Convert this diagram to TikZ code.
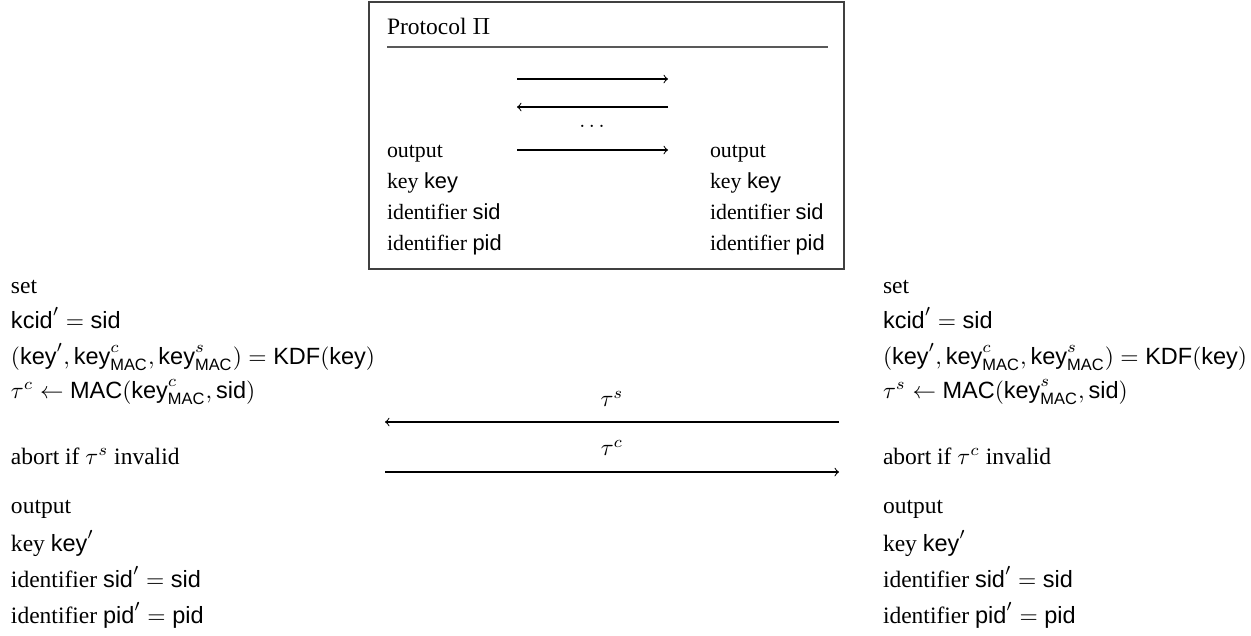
\documentclass[tikz,border=0pt]{standalone}
\usepackage{fontspec}
\setmainfont{Liberation Serif}
\setsansfont{Liberation Sans}
\usepackage{amsmath}
\usetikzlibrary{positioning,calc}

\newcommand{\pkey}{\mathsf{key}}
\newcommand{\psid}{\mathsf{sid}}
\newcommand{\ppid}{\mathsf{pid}}
\newcommand{\pkcid}{\mathsf{kcid}}
\newcommand{\pMAC}{\mathsf{MAC}}
\newcommand{\pKDF}{\mathsf{KDF}}

\begin{document}
\begin{tikzpicture}[x=0.4255pt,y=-0.4255pt,
				every node/.style={inner sep=0pt,outer sep=0pt,anchor=base west},
				row/.style={font=\fontsize{10}{12}\selectfont},
				boxrow/.style={font=\fontsize{9.3}{11}\selectfont},
				msg/.style={->,line width=0.45pt}]
				\useasboundingbox (0,0) rectangle (1251,635);

				% protocol box
				\draw[line width=0.6pt,black!75] (369,2) rectangle (844,269);
				\node[row] (title) at (387,34) {Protocol $\Pi$};
				\draw[line width=0.9pt,black!65] (387,47) -- (828,47);

				\node[boxrow] (bl1) at (387,157) {output};
				\node[boxrow] (bl2) at (387,188) {key $\pkey$};
				\node[boxrow] (bl3) at (387,219) {identifier $\psid$};
				\node[boxrow] (bl4) at (387,250) {identifier $\ppid$};
				\node[boxrow] (br1) at (710,157) {output};
				\node[boxrow] (br2) at (710,188) {key $\pkey$};
				\node[boxrow] (br3) at (710,219) {identifier $\psid$};
				\node[boxrow] (br4) at (710,250) {identifier $\ppid$};
				\node[boxrow,anchor=base] (dots) at (592,127) {$\ldots$};

				\coordinate (m1w) at (517,79);  \coordinate (m1e) at (668,79);
				\coordinate (m2w) at (517,107); \coordinate (m2e) at (668,107);
				\coordinate (m3w) at (517,150); \coordinate (m3e) at (668,150);
				\draw[msg] (m1w) -- (m1e);
				\draw[msg] (m2e) -- (m2w);
				\draw[msg] (m3w) -- (m3e);

				% client side
				\node[row] (cl1) at (11,293) {set};
				\node[row] (cl2) at (11,328) {$\pkcid' = \psid$};
				\node[row] (cl3) at (11,364) {$(\pkey', \pkey^c_{\pMAC}, \pkey^s_{\pMAC}) = \pKDF(\pkey)$};
				\node[row] (cl4) at (11,398) {$\tau^c \leftarrow \pMAC(\pkey^c_{\pMAC}, \psid)$};
				\node[row] (cl5) at (11,464) {abort if $\tau^s$ invalid};
				\node[row] (cl6) at (11,513) {output};
				\node[row] (cl7) at (11,551) {key $\pkey'$};
				\node[row] (cl8) at (11,587) {identifier $\psid' = \psid$};
				\node[row] (cl9) at (11,623) {identifier $\ppid' = \ppid$};

				% server side
				\node[row] (sr1) at (883,293) {set};
				\node[row] (sr2) at (883,328) {$\pkcid' = \psid$};
				\node[row] (sr3) at (883,364) {$(\pkey', \pkey^c_{\pMAC}, \pkey^s_{\pMAC}) = \pKDF(\pkey)$};
				\node[row] (sr4) at (883,398) {$\tau^s \leftarrow \pMAC(\pkey^s_{\pMAC}, \psid)$};
				\node[row] (sr5) at (883,464) {abort if $\tau^c$ invalid};
				\node[row] (sr6) at (883,513) {output};
				\node[row] (sr7) at (883,551) {key $\pkey'$};
				\node[row] (sr8) at (883,587) {identifier $\psid' = \psid$};
				\node[row] (sr9) at (883,623) {identifier $\ppid' = \ppid$};

				% tags
				\coordinate (tsw) at (385,422); \coordinate (tse) at (839,422);
				\coordinate (tcw) at (385,472); \coordinate (tce) at (839,472);
				\draw[msg] (tse) -- (tsw) node[row,midway,anchor=base,yshift=6.4pt] (taus) {$\tau^s$};
				\draw[msg] (tcw) -- (tce) node[row,midway,anchor=base,yshift=7pt] (tauc) {$\tau^c$};
			\end{tikzpicture}
\end{document}
